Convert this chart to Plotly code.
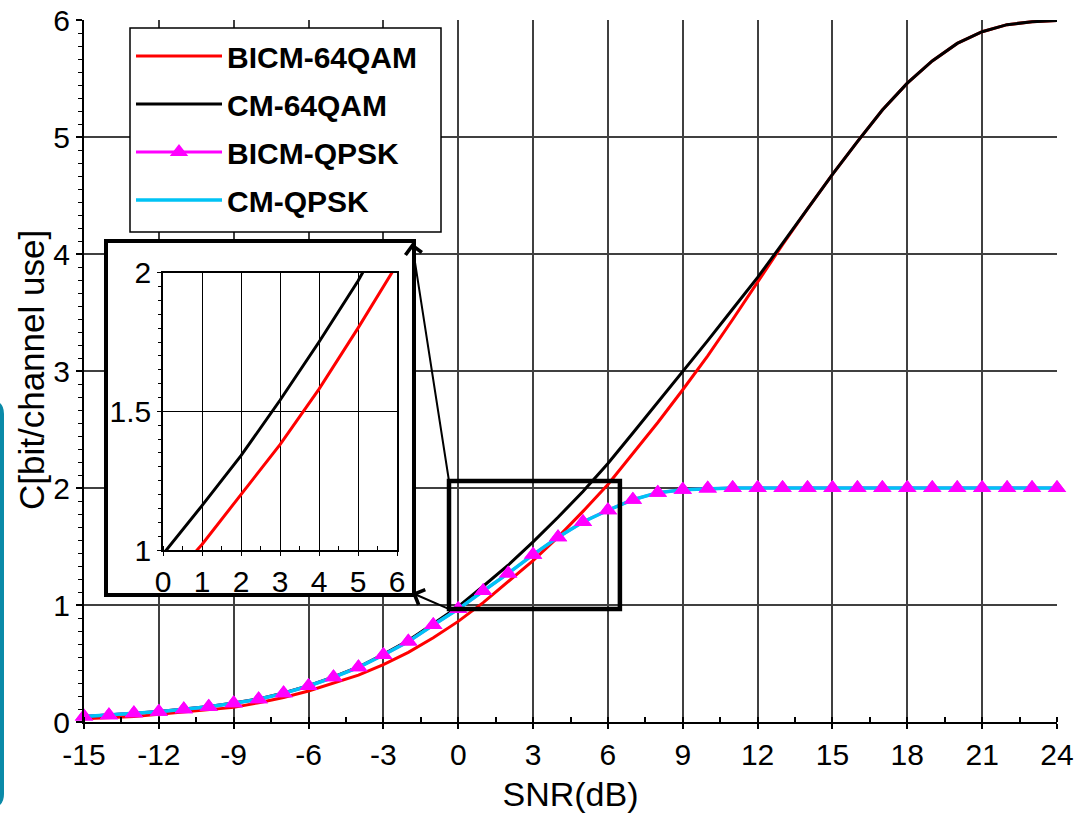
import plotly.graph_objects as go

# ---------------- data ----------------
snr = list(range(-15, 25))

bicm_64qam = [0.027, 0.034, 0.046, 0.066, 0.085, 0.100, 0.125, 0.165, 0.210, 0.265,
              0.330, 0.400, 0.490, 0.595, 0.720, 0.860, 1.020, 1.200, 1.380, 1.580,
              1.800, 2.030, 2.290, 2.560, 2.840, 3.130, 3.440, 3.760, 4.080, 4.385,
              4.680, 4.960, 5.230, 5.460, 5.650, 5.800, 5.900, 5.960, 5.985, 5.995]

cm_64qam = [0.047, 0.058, 0.075, 0.090, 0.110, 0.133, 0.162, 0.197, 0.248, 0.310,
            0.385, 0.470, 0.578, 0.697, 0.840, 0.985, 1.160, 1.340, 1.540, 1.750,
            1.970, 2.210, 2.470, 2.730, 3.000, 3.260, 3.530, 3.800, 4.090, 4.390,
            4.680, 4.960, 5.230, 5.460, 5.650, 5.800, 5.900, 5.960, 5.985, 5.995]

bicm_qpsk = [0.046, 0.057, 0.074, 0.088, 0.108, 0.131, 0.160, 0.194, 0.245, 0.308,
             0.382, 0.467, 0.573, 0.687, 0.829, 0.965, 1.120, 1.270, 1.430, 1.580,
             1.710, 1.810, 1.900, 1.960, 1.985, 1.995, 2.000, 2.000, 2.000, 2.000,
             2.000, 2.000, 2.000, 2.000, 2.000, 2.000, 2.000, 2.000, 2.000, 2.000]

cm_qpsk = [0.046, 0.057, 0.074, 0.088, 0.108, 0.131, 0.160, 0.194, 0.245, 0.308,
           0.382, 0.467, 0.573, 0.687, 0.829, 0.965, 1.120, 1.270, 1.430, 1.580,
           1.710, 1.810, 1.900, 1.960, 1.985, 1.995, 2.000, 2.000, 2.000, 2.000,
           2.000, 2.000, 2.000, 2.000, 2.000, 2.000, 2.000, 2.000, 2.000, 2.000]

series_names = ["BICM-64QAM", "CM-64QAM", "BICM-QPSK", "CM-QPSK"]
x_ticks = list(range(-15, 25, 3))
x_tick_text = [str(v) for v in x_ticks]          # plain hyphen minus
y_ticks = [0, 1, 2, 3, 4, 5, 6]
inset_x_ticks = [0, 1, 2, 3, 4, 5, 6]
inset_y_ticks = [1, 1.5, 2]
inset_y_text = ["1", "1.5", "2"]
zoom_box = dict(x0=-0.37, x1=6.48, y0=0.966, y1=2.06)

# ---------------- layout geometry (pixels) ----------------
W, H = 1075, 814
ML, MR, MT, MB = 84, 18, 20, 92
PW, PH = W - ML - MR, H - MT - MB


def xp(px):
    return (px - ML) / PW


def yp(py):
    return (H - MB - py) / PH


def xd(px):  # pixel -> main x data
    return -15 + (px - ML) / PW * 39


def yd(py):  # pixel -> main y data
    return (H - MB - py) / PH * 6


FONT = "Liberation Sans, Arial, sans-serif"
RED, BLACK, MAGENTA, CYAN = "#ff0000", "#000000", "#ff00ff", "#00c3f5"
GRID = "#404040"

fig = go.Figure()

# main traces
fig.add_trace(go.Scatter(x=snr, y=bicm_64qam, name=series_names[0], mode="lines",
                         line=dict(color=RED, width=3), legendgroup="a"))
fig.add_trace(go.Scatter(x=snr, y=cm_64qam, name=series_names[1], mode="lines",
                         line=dict(color=BLACK, width=3), legendgroup="b"))
fig.add_trace(go.Scatter(x=snr, y=bicm_qpsk, name=series_names[2], mode="lines+markers",
                         line=dict(color=MAGENTA, width=3),
                         marker=dict(symbol="triangle-up", size=16, color=MAGENTA),
                         legendgroup="c", cliponaxis=False))
fig.add_trace(go.Scatter(x=snr, y=cm_qpsk, name=series_names[3], mode="lines",
                         line=dict(color=CYAN, width=3.5), legendgroup="d"))
fig.add_trace(go.Scatter(x=snr, y=bicm_qpsk, mode="markers", showlegend=False,
                         marker=dict(symbol="triangle-up", size=16, color=MAGENTA),
                         cliponaxis=False, hoverinfo="skip", legendgroup="c"))

# white cover subplot (inset frame)
fig.add_trace(go.Scatter(x=[], y=[], xaxis="x2", yaxis="y2", showlegend=False))

# inset traces
fig.add_trace(go.Scatter(x=snr, y=bicm_64qam, mode="lines", showlegend=False,
                         line=dict(color=RED, width=3), xaxis="x3", yaxis="y3"))
fig.add_trace(go.Scatter(x=snr, y=cm_64qam, mode="lines", showlegend=False,
                         line=dict(color=BLACK, width=3), xaxis="x3", yaxis="y3"))

tickfont = dict(family=FONT, size=30, color="black")

fig.update_layout(
    width=W, height=H,
    margin=dict(l=ML, r=MR, t=MT, b=MB),
    paper_bgcolor="white",
    plot_bgcolor="#ffffff",
    font=dict(family=FONT, color="black"),
    showlegend=True,
    legend=dict(x=xp(131), y=yp(30), xanchor="left", yanchor="top",
                bgcolor="rgba(0,0,0,0)", borderwidth=0,
                font=dict(family=FONT, size=30, color="black", weight="bold"),
                itemwidth=86, tracegroupgap=6, traceorder="grouped"),
    xaxis=dict(range=[-15, 24], tickmode="array", tickvals=x_ticks, ticktext=x_tick_text,
               showgrid=True, gridcolor=GRID, gridwidth=1.5, zeroline=False,
               showline=True, linecolor="black", linewidth=2,
               ticks="outside", ticklen=5, tickcolor="black", tickwidth=1.5,
               minor=dict(dtick=1.5, tick0=0, ticks="inside", ticklen=5,
                          tickcolor="black", tickwidth=1.5, showgrid=False),
               tickfont=tickfont, automargin=False,
               title=dict(text="SNR(dB)", font=dict(family=FONT, size=34),
                          standoff=12)),
    yaxis=dict(range=[0, 6], tickmode="array", tickvals=y_ticks,
               showgrid=True, gridcolor=GRID, gridwidth=1.5, zeroline=False,
               showline=True, linecolor="black", linewidth=2,
               ticks="outside", ticklen=6, tickcolor="black", tickwidth=1.5,
               minor=dict(dtick=1 / 9, tick0=0, ticks="outside", ticklen=4,
                          tickcolor="black", tickwidth=1.2, showgrid=False),
               tickfont=tickfont, automargin=False),
    xaxis2=dict(domain=[xp(108), xp(412)], range=[0, 1], anchor="y2",
                showgrid=False, zeroline=False, showticklabels=False, ticks="",
                showline=True, mirror=True, linecolor="black", linewidth=3.5,
                fixedrange=True),
    yaxis2=dict(domain=[yp(593), yp(243)], range=[0, 1], anchor="x2",
                showgrid=False, zeroline=False, showticklabels=False, ticks="",
                showline=True, mirror=True, linecolor="black", linewidth=3.5,
                fixedrange=True),
    xaxis3=dict(domain=[xp(163), xp(397)], range=[0, 6], anchor="y3",
                tickmode="array", tickvals=inset_x_ticks,
                showgrid=True, gridcolor="black", gridwidth=1.2, zeroline=False,
                showline=True, mirror=True, linecolor="black", linewidth=1.5,
                ticks="outside", ticklen=4, tickcolor="black",
                minor=dict(dtick=0.5, tick0=0, ticks="inside", ticklen=4,
                           tickcolor="black", showgrid=False),
                tickfont=tickfont, automargin=False),
    yaxis3=dict(domain=[yp(550), yp(272.7)], range=[1, 2], anchor="x3",
                tickmode="array", tickvals=inset_y_ticks, ticktext=inset_y_text,
                showgrid=True, gridcolor="black", gridwidth=1.2, zeroline=False,
                showline=True, mirror=True, linecolor="black", linewidth=1.5,
                ticks="outside", ticklen=4, tickcolor="black",
                minor=dict(dtick=0.05, tick0=0, ticks="outside", ticklen=3,
                           tickcolor="black", showgrid=False),
                tickfont=tickfont, automargin=False),
)

# y axis title (placed as rotated text)
fig.add_annotation(text="C[bit/channel use]", xref="paper", yref="paper",
                   x=xp(31), y=yp(370), xanchor="center", yanchor="middle",
                   textangle=-90, showarrow=False,
                   font=dict(family=FONT, size=35, color="black"))

# legend frame
fig.add_shape(type="rect", xref="paper", yref="paper", layer="above",
              x0=xp(130), x1=xp(441), y0=yp(232), y1=yp(28),
              fillcolor="white", line=dict(color="black", width=1.5))

# zoomed region rectangle on the main plot
fig.add_shape(type="rect", xref="x", yref="y", layer="above",
              line=dict(color="black", width=4.5), fillcolor="rgba(0,0,0,0)",
              **zoom_box)

# arrows from the zoom rectangle to the inset frame
fig.add_annotation(x=xd(412), y=yd(243), xref="x", yref="y",
                   ax=zoom_box["x0"], ay=zoom_box["y1"], axref="x", ayref="y",
                   text="", showarrow=True, arrowhead=4, arrowsize=1.6,
                   arrowwidth=2, arrowcolor="black")
fig.add_annotation(x=xd(412), y=yd(593), xref="x", yref="y",
                   ax=zoom_box["x0"], ay=zoom_box["y0"], axref="x", ayref="y",
                   text="", showarrow=True, arrowhead=4, arrowsize=1.6,
                   arrowwidth=2, arrowcolor="black")

# partial teal rounded frame at the far left edge of the picture
x_out, x_in = xp(-20), xp(2)
x_c = xp(-10)
y_top, y_bot = yp(402), yp(806)
y_top_c, y_bot_c = yp(414), yp(794)
path = (f"M {x_out},{y_top} L {x_c},{y_top} Q {x_in},{y_top} {x_in},{y_top_c} "
        f"L {x_in},{y_bot_c} Q {x_in},{y_bot} {x_c},{y_bot} L {x_out},{y_bot}")
fig.add_shape(type="path", xref="paper", yref="paper", path=path, layer="above",
              line=dict(color="#0a8aa8", width=4))

fig.write_html("out.html")
